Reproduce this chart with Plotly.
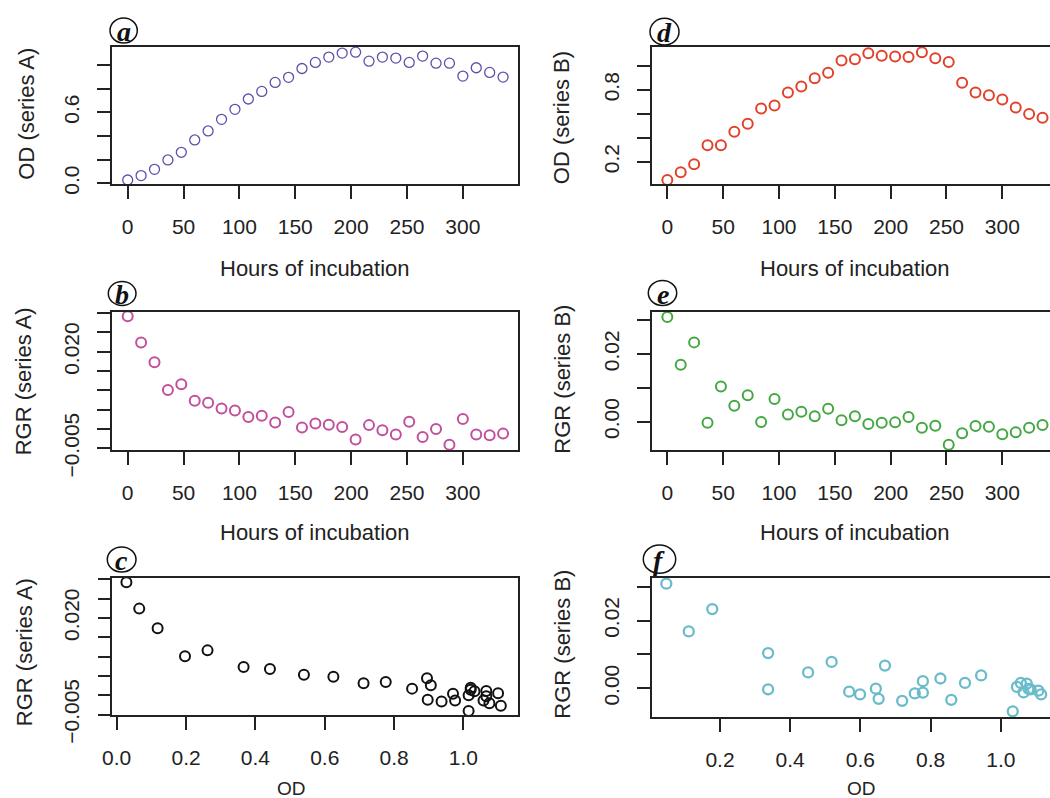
import plotly.graph_objects as go

W, H = 1050, 798

# ---------------- data ----------------
hours = [0, 12, 24, 36, 48, 60, 72, 84, 96, 108, 120, 132, 144, 156, 168,
         180, 192, 204, 216, 228, 240, 252, 264, 276, 288, 300, 312, 324, 336]

od_A = [0.028, 0.065, 0.118, 0.197, 0.262, 0.366, 0.442, 0.540, 0.625, 0.712,
        0.776, 0.852, 0.895, 0.970, 1.021, 1.066, 1.100, 1.108, 1.032, 1.066,
        1.058, 1.021, 1.075, 1.015, 1.015, 0.906, 0.976, 0.937, 0.897]

rgr_A = [0.0292, 0.0224, 0.0173, 0.0101, 0.0116, 0.0073, 0.0068, 0.0053, 0.0048,
         0.0031, 0.0034, 0.0017, 0.0044, 0.0004, 0.0014, 0.0011, 0.0005, -0.0027,
         0.0010, -0.0003, -0.0014, 0.0019, -0.0021, 0.0000, -0.0041, 0.0026,
         -0.0014, -0.0016, -0.0012]

od_B = [0.047, 0.111, 0.178, 0.337, 0.337, 0.451, 0.518, 0.644, 0.670, 0.778,
        0.828, 0.898, 0.944, 1.046, 1.057, 1.107, 1.085, 1.079, 1.074, 1.115,
        1.065, 1.034, 0.859, 0.778, 0.755, 0.719, 0.652, 0.599, 0.568]

rgr_B = [0.0309, 0.0168, 0.0234, -0.0003, 0.0104, 0.0047, 0.0078, -0.0001, 0.0067,
         0.0021, 0.0029, 0.0016, 0.0038, 0.0004, 0.0016, -0.0007, -0.0003, -0.0002,
         0.0014, -0.0018, -0.0012, -0.0068, -0.0034, -0.0013, -0.0015, -0.0037,
         -0.0031, -0.0018, -0.0010]

hour_ticks = [0, 50, 100, 150, 200, 250, 300]
hour_labels = ["0", "50", "100", "150", "200", "250", "300"]
odA_ticks = [0.0, 0.2, 0.4, 0.6, 0.8, 1.0]
odA_labels = ["0.0", "", "", "0.6", "", ""]
odB_ticks = [0.2, 0.4, 0.6, 0.8, 1.0]
odB_labels = ["0.2", "", "", "0.8", ""]
rgrA_ticks = [-0.005, 0.0, 0.005, 0.010, 0.015, 0.020, 0.025, 0.030]
rgrA_labels = ["\u22120.005", "", "", "", "", "0.020", "", ""]
rgrB_ticks = [0.0, 0.01, 0.02, 0.03]
rgrB_labels = ["0.00", "", "0.02", ""]
odx_ticksA = [0.0, 0.2, 0.4, 0.6, 0.8, 1.0]
odx_labelsA = ["0.0", "0.2", "0.4", "0.6", "0.8", "1.0"]
odx_ticksB = [0.2, 0.4, 0.6, 0.8, 1.0]
odx_labelsB = ["0.2", "0.4", "0.6", "0.8", "1.0"]

FONT = "Liberation Sans, Arial, sans-serif"
TICKFONT = dict(family=FONT, size=21, color="#222")


def xd(x0, x1):
    return [x0 / W, min(x1 / W, 1.0)]


def yd(top, bot):
    return [1 - bot / H, 1 - top / H]


fig = go.Figure()

panels = [
    # name, x, y, color, lw, xdom, ydom, xrange, yrange, xt, xl, yt, yl, full box
    ("1", hours, od_A, "#5a52aa", 1.3, xd(112, 517.7), yd(46.7, 184),
     [-14.05, 349.1], [-0.006, 1.154], hour_ticks, hour_labels, odA_ticks, odA_labels, True),
    ("2", hours, rgr_A, "#c24f9c", 2.0, xd(112, 517.7), yd(312.3, 450),
     [-14.05, 349.1], [-0.00544, 0.0302], hour_ticks, hour_labels, rgrA_ticks, rgrA_labels, True),
    ("3", od_A, rgr_A, "#111111", 2.0, xd(112.3, 517.7), yd(577.7, 715.3),
     [-0.0127, 1.1566], [-0.0052, 0.0304], odx_ticksA, odx_labelsA, rgrA_ticks, rgrA_labels, True),
    ("4", hours, od_B, "#e2412c", 2.0, xd(651.7, 1050), yd(46.7, 184.3),
     [-14.0, 342.7], [0.011, 1.161], hour_ticks, hour_labels, odB_ticks, odB_labels, False),
    ("5", hours, rgr_B, "#43a843", 2.0, xd(651.7, 1050), yd(311.7, 450.3),
     [-14.0, 342.7], [-0.00844, 0.03245], hour_ticks, hour_labels, rgrB_ticks, rgrB_labels, False),
    ("6", od_B, rgr_B, "#6bbccb", 2.3, xd(651.7, 1050), yd(577.7, 716.7),
     [0.0054, 1.1402], [-0.00838, 0.03265], odx_ticksB, odx_labelsB, rgrB_ticks, rgrB_labels, False),
]

for (n, xs, ys, col, lw, xdom, ydom, xr, yr, xt, xl, yt, yl, full) in panels:
    xa = "x" if n == "1" else "x" + n
    ya = "y" if n == "1" else "y" + n
    fig.add_trace(go.Scatter(
        x=xs, y=ys, mode="markers", xaxis=xa, yaxis=ya, showlegend=False,
        marker=dict(symbol="circle-open", size=10, color=col, line=dict(width=lw, color=col)),
        cliponaxis=False, hoverinfo="skip"))
    key = "" if n == "1" else n
    fig.layout["xaxis" + key] = dict(
        domain=xdom, range=xr, anchor=ya, showgrid=False, zeroline=False,
        showline=True, linecolor="#222", linewidth=1.6, mirror=True,
        ticks="outside", ticklen=13, tickwidth=1.6, tickcolor="#222",
        tickmode="array", tickvals=xt, ticktext=xl, tickfont=TICKFONT,
        ticklabelstandoff=10, automargin=False, fixedrange=True)
    fig.layout["yaxis" + key] = dict(
        domain=ydom, range=yr, anchor=xa, showgrid=False, zeroline=False,
        showline=True, linecolor="#222", linewidth=1.6, mirror=full,
        ticks="outside", ticklen=13, tickwidth=1.6, tickcolor="#222",
        tickmode="array", tickvals=yt, ticktext=yl, tickfont=TICKFONT,
        tickangle=-90, ticklabelstandoff=10, automargin=False, fixedrange=True)

annotations = []


def txt(x, y, s, size=22, angle=0):
    annotations.append(dict(x=x / W, y=1 - y / H, xref="paper", yref="paper",
                            text=s, showarrow=False, textangle=angle,
                            xanchor="center", yanchor="middle",
                            font=dict(family=FONT, size=size, color="#222")))


# x-axis titles
txt(314.8, 268, "Hours of incubation")
txt(855, 268, "Hours of incubation")
txt(314.8, 532, "Hours of incubation")
txt(855, 532, "Hours of incubation")
txt(291, 788, "OD", size=19)
txt(861.5, 788, "OD", size=19)
# y-axis titles
txt(26.7, 114, "OD (series A)", angle=-90)
txt(561.7, 117.5, "OD (series B)", angle=-90)
txt(23.3, 381, "RGR (series A)", angle=-90)
txt(561.7, 379, "RGR (series B)", angle=-90)
txt(24.2, 652, "RGR (series A)", angle=-90)
txt(561.7, 644, "RGR (series B)", angle=-90)

# panel letters in circles
letters = [("a", 110, 137.3, 18, 43), ("b", 108.3, 136, 281.5, 305.5),
           ("c", 107.3, 136, 547, 572), ("d", 650, 679, 18.3, 45),
           ("e", 648.3, 676.7, 280.5, 305.5), ("f", 643.3, 675.7, 545, 573.3)]
shapes = []
for (L, x0, x1, y0, y1) in letters:
    shapes.append(dict(type="circle", xref="paper", yref="paper",
                       x0=x0 / W, x1=x1 / W, y0=1 - y1 / H, y1=1 - y0 / H,
                       line=dict(color="#111", width=1.5), fillcolor="rgba(0,0,0,0)"))
    annotations.append(dict(x=(x0 + x1) / 2 / W, y=1 - ((y0 + y1) / 2 + 1) / H,
                            xref="paper", yref="paper", showarrow=False,
                            text="<b><i>%s</i></b>" % L, xanchor="center", yanchor="middle",
                            font=dict(family="Liberation Serif, Times New Roman, serif",
                                      size=28, color="#111")))

fig.update_layout(width=W, height=H, margin=dict(l=0, r=0, t=0, b=0),
                  paper_bgcolor="white", plot_bgcolor="white",
                  annotations=annotations, shapes=shapes, showlegend=False)

fig.write_html("out.html", config={"displayModeBar": False})
